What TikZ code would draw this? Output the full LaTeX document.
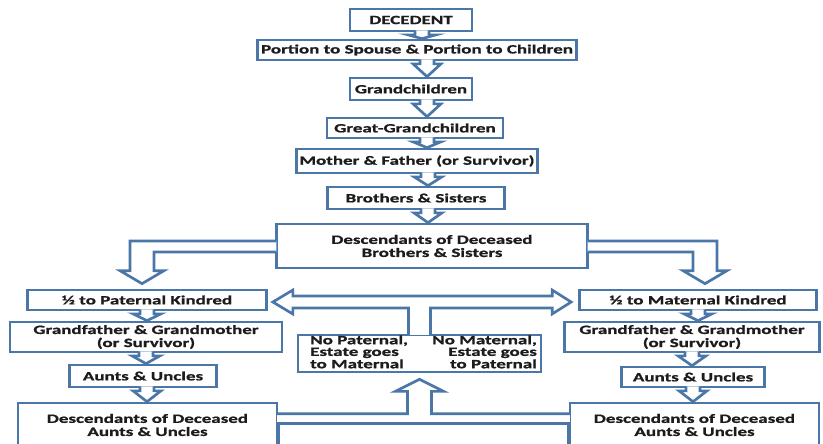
\documentclass[tikz,border=0pt]{standalone}
\usepackage{fontspec}
\newfontfamily\boxfont{Carlito}[FakeStretch=1.5, BoldFeatures={FakeBold=1}]
\usetikzlibrary{calc}
\definecolor{frameblue}{HTML}{4A76A8}
\definecolor{inkgrey}{HTML}{1C1C1C}
\tikzset{
  box/.style={rectangle, draw=frameblue, line width=2pt, fill=white, align=center,
    inner sep=0pt, text=inkgrey, font=\boxfont\bfseries\fontsize{9.5}{9.8}\selectfont},
  boxsize/.style 2 args={minimum width=#1*0.75pt, minimum height=#2*0.75pt},
  hollow/.style={draw=frameblue, line width=2pt, fill=white, line join=miter},
}
% small hollow arrow from the bottom of one box to the top of the next
\newcommand{\chev}[3][0]{%
  \draw[hollow] ($(#2.south)+(#1-7,-2)$) -- ++(0,4.5) -- ++(-7,0)
    -- ($(#2.south |- #3.north)+(#1,0)$) -- ($(#2.south)+(#1+14,2.5)$) -- ++(-7,0) -- ++(0,-4.5);}

\begin{document}
\begin{tikzpicture}[x=0.75pt, y=-0.75pt]
\useasboundingbox (0,0) rectangle (823,443);
\clip (0,0) rectangle (823,443);
% main column
\node[box, boxsize={122}{22}] (dec) at (411,20) {DECEDENT};
\node[box, boxsize={319}{20}] (spouse) at (417,50) {Portion to Spouse \& Portion to Children};
\node[box, boxsize={122}{22}] (gch) at (411,89) {Grandchildren};
\node[box, boxsize={176}{20}] (ggch) at (415,128) {Great-Grandchildren};
\node[box, boxsize={241}{24}] (parents) at (417,161) {Mother \& Father (or Survivor)};
\node[box, boxsize={177}{22}] (sibs) at (416,198) {Brothers \& Sisters};
\node[box, boxsize={311}{44}] (sibdesc) at (432,246) {Descendants of Deceased\\Brothers \& Sisters};
% paternal side
\node[box, boxsize={239}{20}] (patkin) at (147,300) {½ to Paternal Kindred};
\node[box, boxsize={272}{30}] (patgp) at (146,337) {Grandfather \& Grandmother\\(or Survivor)};
\node[box, boxsize={147}{22}] (patau) at (143,376) {Aunts \& Uncles};
\node[box, boxsize={259}{44}] (patdesc) at (147.5,425) {Descendants of Deceased\\Aunts \& Uncles};
% maternal side
\node[box, boxsize={237}{20}] (matkin) at (698,300) {½ to Maternal Kindred};
\node[box, boxsize={255}{30}] (matgp) at (692,337) {Grandfather \& Grandmother\\(or Survivor)};
\node[box, boxsize={143}{20}] (matau) at (693,377) {Aunts \& Uncles};
\node[box, boxsize={249}{44}] (matdesc) at (694.5,425) {Descendants of Deceased\\Aunts \& Uncles};
% no kindred on one side
\node[box, boxsize={243}{37}, font=\boxfont\bfseries\fontsize{9.5}{8.6}\selectfont] (nokin) at (419.5,353.5)
  {\hspace*{6pt}\begin{tabular*}{170pt}{@{}l@{\extracolsep{\fill}}r@{}}
    No Paternal, & No Maternal,\\ Estate goes & Estate goes\\ to Maternal & to Paternal
  \end{tabular*}};

\chev[11]{dec}{spouse}
\chev[10]{spouse}{gch}
\chev[16]{gch}{ggch}
\chev[12]{ggch}{parents}
\chev[11]{parents}{sibs}
\chev[12]{sibs}{sibdesc}
\chev{patkin}{patgp}
\chev{patgp}{patau}
\chev[4]{patau}{patdesc}
\chev{matkin}{matgp}
\chev{matgp}{matau}
\chev{matau}{matdesc}

% split to both sides
\draw[hollow] ($(sibdesc.west)+(1.2,-5)$) -| ($(patkin.north)+(-17,-18)$) -- ++(-10,0)
  -- ($(patkin.north)+(-5,-5)$) -- ($(patkin.north)+(17,-18)$) -- ++(-10,0) |- ($(sibdesc.west)+(1.2,6)$);
\draw[hollow] ($(sibdesc.east)+(-1.2,-5)$) -| ($(matkin.north)+(19,-18)$) -- ++(10,0)
  -- ($(matkin.north)+(7,-5)$) -- ($(matkin.north)+(-15,-18)$) -- ++(10,0) |- ($(sibdesc.east)+(-1.2,6)$);

% both ways from the middle box
\draw[hollow] ($(nokin.north)+(-11,1.2)$) -- ($(nokin.north |- patkin.east)+(-11,8)$)
  -- ($(patkin.east)+(25,8)$) -- ++(0,6) -- ($(patkin.east)+(5,2)$) -- ($(patkin.east)+(25,-10)$) -- ++(0,6)
  -- ($(matkin.west)+(-26,-4)$) -- ++(0,-6) -- ($(matkin.west)+(-7,2)$) -- ($(matkin.west)+(-26,14)$) -- ++(0,-6)
  -- ($(nokin.north |- patkin.east)+(11,8)$) -- ($(nokin.north)+(11,1.2)$);

% up from the aunts and uncles
\fill[white] ($(patdesc.north east)+(-1.4,13.5)$) rectangle ($(matdesc.north west)+(1.4,20.5)$);
\draw[hollow] ($(patdesc.north east)+(-1.4,12)$) -- ($(nokin.south |- patdesc.north east)+(-12,12)$)
  -- ($(nokin.south)+(-12,18)$) -- ++(-12,0) -- ($(nokin.south)+(0,6)$) -- ($(nokin.south)+(24,18)$)
  -- ++(-12,0) -- ($(nokin.south |- matdesc.north west)+(12,12)$) -- ($(matdesc.north west)+(1.4,12)$);
\draw[hollow, fill=none] ($(patdesc.north east)+(0,50)$) |- ($(matdesc.north west)+(0,22)$) -- ++(0,30);
\end{tikzpicture}
\end{document}
